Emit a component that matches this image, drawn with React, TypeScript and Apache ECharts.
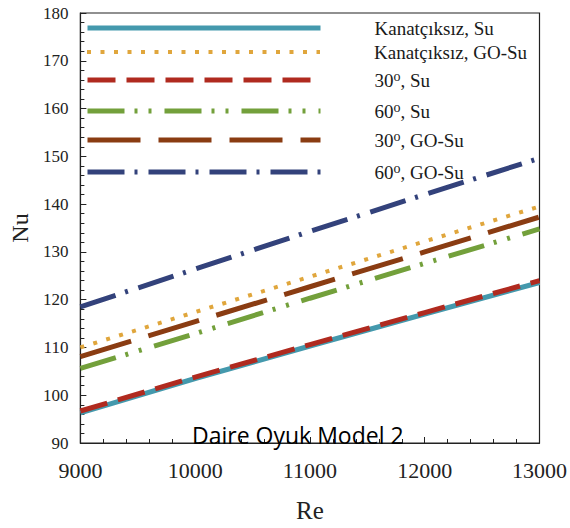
import React, { useEffect, useRef } from "react";
import * as echarts from "echarts";

// ---- data ----
const reValues = [9000, 10000, 11000, 12000, 13000];
const kanatciksizSu = [96.3, 103.5, 110.3, 117.0, 123.6];
const kanatciksizGoSu = [110.0, 117.4, 124.8, 132.2, 139.5];
const deg30Su = [96.7, 103.8, 110.6, 117.3, 124.0];
const deg60Su = [105.6, 112.9, 120.3, 127.6, 134.8];
const deg30GoSu = [108.1, 115.4, 122.7, 130.0, 137.3];
const deg60GoSu = [118.5, 126.4, 134.3, 142.0, 149.6];

const seriesNames = [
  "Kanatçıksız, Su",
  "Kanatçıksız, GO-Su",
  "30°, Su",
  "60°, Su",
  "30°, GO-Su",
  "60°, GO-Su",
];
const seriesValues = [kanatciksizSu, kanatciksizGoSu, deg30Su, deg60Su, deg30GoSu, deg60GoSu];

const xTicks = { min: 9000, max: 13000, interval: 1000 };
const yTicks = { min: 90, max: 180, interval: 10 };
const annotation = "Daire Oyuk Model 2";

// ---- styles ----
const colors = ["#4499ad", "#e0a63c", "#b02a1f", "#73a03b", "#8a3c12", "#33427b"];
const dashes: (string | number[])[] = [
  "solid",
  [4, 9.5],
  [28, 11],
  [37, 10, 3, 11, 3, 13],
  [53, 18],
  [37, 10, 3, 11],
];
const legendTops = [17, 41, 69, 100, 129, 161];
const SERIF = "Liberation Serif";

export default function App() {
  const ref = useRef<HTMLDivElement>(null);

  useEffect(() => {
    if (!ref.current) return;
    const chart = echarts.init(ref.current, undefined, { renderer: "svg" });

    const series = seriesNames.map((name, i) => ({
      name,
      type: "line",
      data: reValues.map((re, k) => [re, seriesValues[i][k]]),
      symbol: "none",
      showSymbol: false,
      lineStyle: { color: colors[i], width: i === 1 ? 4 : 5, type: dashes[i], cap: "butt" },
      itemStyle: { color: colors[i] },
      z: 2 + i,
    }));

    const legends = seriesNames.map((name, i) => ({
      data: [name],
      orient: "vertical",
      left: 85,
      top: legendTops[i],
      padding: 0,
      itemWidth: 233,
      itemHeight: 12,
      itemGap: 0,
      selectedMode: false,
      itemStyle: { opacity: 0, borderWidth: 0 },
      lineStyle: { width: "inherit" },
      formatter: (n: string) => "{g|}{t|" + n.replace("°", "}{sup|o}{t|") + "}",
      textStyle: {
        fontFamily: SERIF,
        fontSize: 19,
        color: "#1a1a1a",
        lineHeight: 22,
        rich: {
          g: { width: 49 },
          t: { fontFamily: SERIF, fontSize: 19, color: "#1a1a1a", lineHeight: 22 },
          sup: { fontFamily: SERIF, fontSize: 14, color: "#1a1a1a", verticalAlign: "top", lineHeight: 14 },
        },
      },
    }));

    chart.setOption({
      animation: false,
      backgroundColor: "#ffffff",
      grid: {
        left: 75,
        right: 28,
        top: 13,
        bottom: 78,
        show: true,
        borderColor: "#222",
        borderWidth: 1.2,
        backgroundColor: "transparent",
      },
      legend: legends,
      graphic: [
        {
          type: "text",
          left: 192,
          top: 423,
          style: {
            text: annotation,
            fontFamily: "Open Sans",
            fontSize: 23,
            fill: "#000",
          },
          z: 100,
        },
      ],
      xAxis: {
        type: "value",
        min: xTicks.min,
        max: xTicks.max,
        interval: xTicks.interval,
        name: "Re",
        nameLocation: "middle",
        nameGap: 55,
        nameTextStyle: { fontFamily: SERIF, fontSize: 25, color: "#222" },
        axisLine: { lineStyle: { color: "#222", width: 1.2 } },
        axisTick: { inside: true, length: 6, lineStyle: { color: "#222" } },
        minorTick: { show: true, splitNumber: 5, length: 4, lineStyle: { color: "#222" } },
        splitLine: { show: false },
        axisLabel: {
          fontFamily: SERIF,
          fontSize: 22,
          color: "#222",
          margin: 16,
          formatter: (v: number) => String(v),
        },
      },
      yAxis: {
        type: "value",
        min: yTicks.min,
        max: yTicks.max,
        interval: yTicks.interval,
        name: "Nu",
        nameLocation: "middle",
        nameGap: 46,
        nameTextStyle: { fontFamily: SERIF, fontSize: 24, color: "#222" },
        axisLine: { lineStyle: { color: "#222", width: 1.2 } },
        axisTick: { inside: true, length: 6, lineStyle: { color: "#222" } },
        minorTick: { show: true, splitNumber: 5, length: 4, lineStyle: { color: "#222" } },
        splitLine: { show: false },
        axisLabel: {
          fontFamily: SERIF,
          fontSize: 17,
          color: "#222",
          margin: 12,
          formatter: (v: number) => String(v),
        },
      },
      series,
    });

    return () => chart.dispose();
  }, []);

  return (
    <div
      ref={ref}
      style={{ position: "fixed", left: 0, top: 0, width: 570, height: 528, background: "#fff" }}
    />
  );
}
